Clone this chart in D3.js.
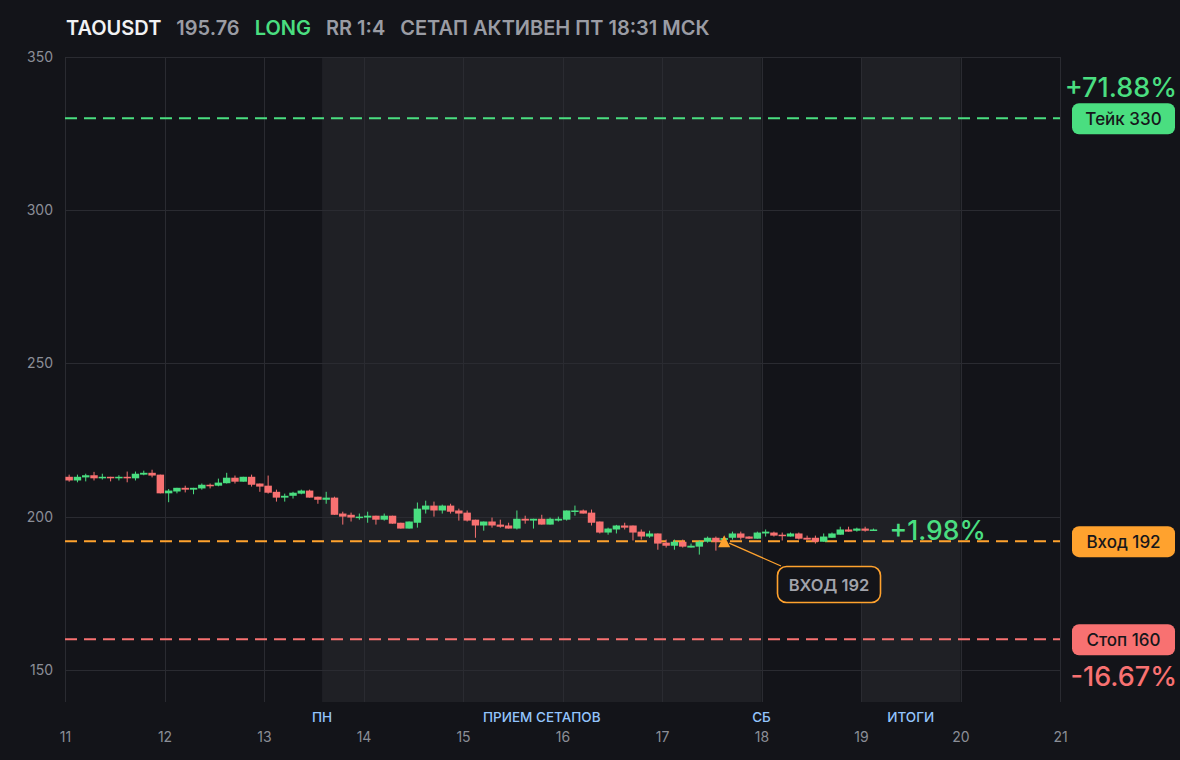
<!DOCTYPE html>
<html>
<head>
<meta charset="utf-8">
<script src="https://cdn.jsdelivr.net/npm/d3@7"></script>
<style>
  html, body { margin: 0; padding: 0; background: #131419; }
  svg { display: block; font-family: Inter, "Noto Sans", sans-serif; }
</style>
</head>
<body>
<script>
// chart data
var symbol = "TAOUSDT";
var lastPrice = "195.76";
var side = "LONG";
var riskReward = "RR 1:4";
var status = "СЕТАП АКТИВЕН ПТ 18:31 МСК";

// 2h candles starting at day 11
var startDay = 11;
var candleDays = 1 / 12;
var opens = [213.0, 211.8, 212.8, 213.5, 212.5, 213.0, 212.5, 213.0, 212.5, 213.7, 214.3, 213.7, 207.6, 208.2, 209.4, 208.8, 209.2, 210.4, 210.1, 210.9,
  212.7, 211.4, 213.0, 210.8, 210.1, 208.1, 206.2, 206.8, 207.5, 208.5, 206.5, 205.5, 206.2, 201.0, 200.6, 199.7, 199.7, 200.3, 199.0, 200.3,
  198.0, 196.1, 198.0, 202.3, 203.6, 202.0, 203.6, 202.0, 201.3, 199.0, 197.1, 198.4, 197.4, 197.1, 196.1, 199.3, 198.7, 199.3, 197.4, 198.7,
  199.0, 201.6, 202.0, 201.3, 198.4, 194.8, 195.8, 197.1, 197.1, 195.1, 193.5, 194.5, 191.5, 190.5, 191.8, 189.9, 190.2, 191.8, 193.1, 192.4,
  193.1, 194.5, 193.5, 192.8, 194.5, 194.8, 194.1, 193.5, 194.5, 193.1, 193.1, 191.8, 193.1, 194.1, 195.8, 195.4, 196.1, 195.4];
var highs = [213.7, 213.7, 214.0, 214.6, 214.0, 213.0, 213.5, 214.7, 214.7, 215.0, 215.3, 213.7, 209.0, 209.4, 210.1, 209.4, 210.8, 210.8, 212.4, 214.3,
  213.4, 213.0, 213.7, 210.8, 213.4, 208.8, 207.5, 208.1, 208.8, 208.8, 206.5, 208.1, 206.5, 201.6, 201.3, 201.0, 201.6, 200.3, 201.0, 200.3,
  198.0, 198.4, 204.6, 205.2, 204.9, 203.9, 204.2, 202.6, 202.0, 199.0, 198.4, 199.7, 199.0, 198.0, 202.0, 200.3, 199.3, 200.6, 199.7, 200.0,
  202.0, 203.6, 202.3, 202.3, 198.4, 196.4, 197.3, 198.0, 197.1, 195.8, 195.4, 194.5, 192.5, 192.5, 192.5, 191.2, 192.2, 193.5, 193.5, 193.4,
  195.1, 195.1, 193.6, 195.1, 195.8, 195.1, 194.8, 194.8, 194.8, 193.8, 193.8, 194.5, 194.8, 196.7, 196.7, 196.4, 196.7, 196.1];
var lows = [211.4, 211.2, 211.5, 211.8, 212.1, 211.5, 211.8, 211.2, 211.8, 213.5, 212.8, 207.6, 204.7, 207.6, 207.9, 207.3, 208.8, 209.2, 209.9, 210.8,
  210.8, 211.4, 209.8, 208.1, 207.5, 204.9, 204.9, 205.9, 207.3, 206.2, 204.2, 204.2, 200.6, 197.4, 198.4, 199.0, 198.0, 197.4, 198.7, 197.7,
  196.1, 196.1, 196.4, 201.0, 200.0, 201.0, 201.0, 198.7, 198.4, 193.1, 195.4, 196.4, 196.4, 196.1, 195.8, 197.7, 196.1, 197.4, 197.4, 198.4,
  198.7, 200.3, 201.0, 197.1, 194.5, 194.1, 194.5, 195.8, 192.2, 192.5, 193.1, 189.2, 189.9, 189.2, 189.9, 189.9, 187.6, 191.5, 188.9, 191.8,
  192.5, 192.5, 192.7, 192.8, 193.5, 193.5, 192.2, 193.5, 192.5, 192.5, 191.2, 191.8, 193.1, 194.1, 195.1, 195.1, 195.1, 195.4];
var closes = [211.8, 213.0, 213.5, 212.5, 213.0, 212.5, 213.0, 212.5, 214.0, 214.3, 213.4, 207.6, 208.5, 209.4, 208.8, 209.4, 210.4, 209.9, 211.1, 212.7,
  211.4, 213.0, 210.4, 209.8, 207.8, 206.2, 206.8, 207.8, 208.5, 206.2, 205.5, 206.2, 200.6, 200.0, 199.7, 200.0, 200.3, 199.0, 200.3, 197.7,
  196.1, 198.4, 202.6, 203.6, 202.0, 203.6, 201.6, 201.0, 198.7, 197.1, 198.4, 197.1, 196.7, 196.1, 199.3, 198.7, 199.3, 197.4, 199.3, 199.3,
  202.0, 202.0, 201.0, 198.0, 194.8, 196.1, 197.1, 196.4, 194.8, 193.5, 194.5, 191.2, 190.5, 191.8, 190.2, 190.5, 191.8, 193.1, 191.8, 193.0,
  194.5, 193.1, 192.8, 194.8, 195.1, 193.8, 193.8, 194.5, 192.8, 192.5, 191.8, 193.5, 194.5, 195.8, 195.1, 196.1, 195.4, 195.8];

// levels
var levelNames = ["Тейк", "Вход", "Стоп"];
var levelPrices = [330, 192, 160];
var levelPercents = ["+71.88%", null, "-16.67%"];
var levelColors = ["#4ade80", "#ffa22e", "#f87171"];
var currentPercent = "+1.98%";

// entry marker
var entryCandle = 79;
var entryPrice = 192;
var entryText = "ВХОД 192";

// session bands and labels
var bandStarts = [13 + 7 / 12, 19];
var bandEnds = [18, 20];
var sessionLabels = ["ПН", "ПРИЕМ СЕТАПОВ", "СБ", "ИТОГИ"];
var sessionDays = [13 + 7 / 12, 15 + 19 / 24, 18, 19.5];

var dayTicks = d3.range(11, 22);
var priceTicks = [150, 200, 250, 300, 350];

// layout
var W = 1180, H = 760;
var m = { left: 65, right: 1060, top: 57, bottom: 702 };
var green = "#4ade80", red = "#f87171";

var svg = d3.select("body").append("svg").attr("width", W).attr("height", H);
svg.append("rect").attr("width", W).attr("height", H).attr("fill", "#131419");

var x = d3.scaleLinear().domain([11, 21]).range([m.left, m.right]);
var y = d3.scaleLinear().domain([139.5, 350]).range([m.bottom, m.top]);

// bands
svg.append("g").selectAll("rect").data(bandStarts).join("rect")
  .attr("x", function(d) { return x(d); })
  .attr("y", m.top)
  .attr("width", function(d, i) { return x(bandEnds[i]) - x(d); })
  .attr("height", m.bottom - m.top)
  .attr("fill", "#1f2025");

// grid
var grid = svg.append("g").attr("stroke", "#2a2b31").attr("stroke-width", 1);
grid.selectAll("line.v").data(dayTicks).join("line")
  .attr("x1", function(d) { return Math.round(x(d)) + 0.5; })
  .attr("x2", function(d) { return Math.round(x(d)) + 0.5; })
  .attr("y1", m.top).attr("y2", m.bottom);
grid.selectAll("line.h").data(priceTicks).join("line")
  .attr("x1", m.left).attr("x2", m.right)
  .attr("y1", function(d) { return Math.round(y(d)) + 0.5; })
  .attr("y2", function(d) { return Math.round(y(d)) + 0.5; });

// y axis labels
var yAxis = svg.append("g").attr("transform", "translate(" + (m.left - 12) + ",0)")
  .call(d3.axisLeft(y).tickValues(priceTicks).tickSize(0).tickPadding(0));
yAxis.select(".domain").remove();
yAxis.selectAll("text").attr("fill", "#8b8e97").attr("font-size", 14).attr("font-family", "Inter, sans-serif");

// x axis labels
var xAxis = svg.append("g").attr("transform", "translate(0,732)")
  .call(d3.axisBottom(x).tickValues(dayTicks).tickSize(0).tickPadding(0).tickFormat(d3.format("d")));
xAxis.select(".domain").remove();
xAxis.selectAll("text").attr("fill", "#8b8e97").attr("font-size", 14).attr("font-family", "Inter, sans-serif");

// session labels
svg.append("g").selectAll("text").data(sessionLabels).join("text")
  .attr("x", function(d, i) { return x(sessionDays[i]); })
  .attr("y", 721.5)
  .attr("text-anchor", "middle")
  .attr("fill", "#93c5fd")
  .attr("font-size", 13.5)
  .attr("font-weight", 500)
  .text(function(d) { return d; });

// level lines
svg.append("g").selectAll("line").data(levelPrices).join("line")
  .attr("x1", m.left).attr("x2", m.right)
  .attr("y1", function(d) { return y(d); })
  .attr("y2", function(d) { return y(d); })
  .attr("stroke", function(d, i) { return levelColors[i]; })
  .attr("stroke-width", 2)
  .attr("stroke-dasharray", "12 7");

// candles
var step = x(startDay + candleDays) - x(startDay);
var bodyW = step * 0.9;
var candles = svg.append("g");
opens.forEach(function(o, i) {
  var cx = x(startDay + (i + 0.5) * candleDays);
  var c = closes[i];
  var col = c >= o ? green : red;
  candles.append("line")
    .attr("x1", cx).attr("x2", cx)
    .attr("y1", y(highs[i])).attr("y2", y(lows[i]))
    .attr("stroke", col).attr("stroke-width", 1);
  var top = y(Math.max(o, c)), bot = y(Math.min(o, c));
  candles.append("rect")
    .attr("x", cx - bodyW / 2).attr("width", bodyW)
    .attr("y", top).attr("height", Math.max(1.5, bot - top))
    .attr("fill", col);
});

// current percent
svg.append("text")
  .attr("x", x(startDay + opens.length * candleDays) + 12)
  .attr("y", y(closes[closes.length - 1]) + 11)
  .attr("fill", green).attr("font-size", 26.5).attr("font-weight", 500)
  .text(currentPercent);

// entry marker + callout
var ex = x(startDay + (entryCandle + 0.5) * candleDays), ey = y(entryPrice);
svg.append("line")
  .attr("x1", ex + 5).attr("y1", ey + 2)
  .attr("x2", 781).attr("y2", 566)
  .attr("stroke", "#ffa22e").attr("stroke-width", 1.2);
svg.append("path")
  .attr("d", "M" + ex + "," + (ey - 6) + "L" + (ex + 6) + "," + (ey + 6) + "L" + (ex - 6) + "," + (ey + 6) + "Z")
  .attr("fill", "#ffa22e");
svg.append("rect")
  .attr("x", 777.5).attr("y", 566.5).attr("width", 103).attr("height", 36).attr("rx", 9)
  .attr("fill", "#131419").attr("stroke", "#ffa22e").attr("stroke-width", 1.6);
svg.append("text")
  .attr("x", 829).attr("y", 590.5).attr("text-anchor", "middle")
  .attr("fill", "#a1a3ab").attr("font-size", 16.5).attr("font-weight", 600)
  .text(entryText);

// level pills on the right
var pills = svg.append("g");
levelPrices.forEach(function(p, i) {
  var py = y(p) + 0.5;
  pills.append("rect")
    .attr("x", 1072).attr("y", py - 15.5).attr("width", 103).attr("height", 31).attr("rx", 7)
    .attr("fill", levelColors[i]);
  pills.append("text")
    .attr("x", 1123.5).attr("y", py + 6).attr("text-anchor", "middle")
    .attr("fill", "#16171b").attr("font-size", 17).attr("font-weight", 500)
    .text(levelNames[i] + " " + p);
  if (levelPercents[i]) {
    var above = p > entryPrice;
    pills.append("text")
      .attr("x", 1177).attr("y", above ? py - 22 : py + 46).attr("text-anchor", "end")
      .attr("fill", levelColors[i]).attr("font-size", 27).attr("font-weight", 500)
      .text(levelPercents[i]);
  }
});

// header
var header = svg.append("text").attr("x", 66).attr("y", 35)
  .attr("font-size", 20).attr("font-weight", 600);
header.append("tspan").attr("fill", "#f1f2f4").text(symbol);
header.append("tspan").attr("dx", 15).attr("fill", "#9a9ca4").text(lastPrice);
header.append("tspan").attr("dx", 15).attr("fill", green).text(side);
header.append("tspan").attr("dx", 15).attr("fill", "#9a9ca4").text(riskReward);
header.append("tspan").attr("dx", 15).attr("fill", "#9a9ca4").text(status);
</script>
</body>
</html>
